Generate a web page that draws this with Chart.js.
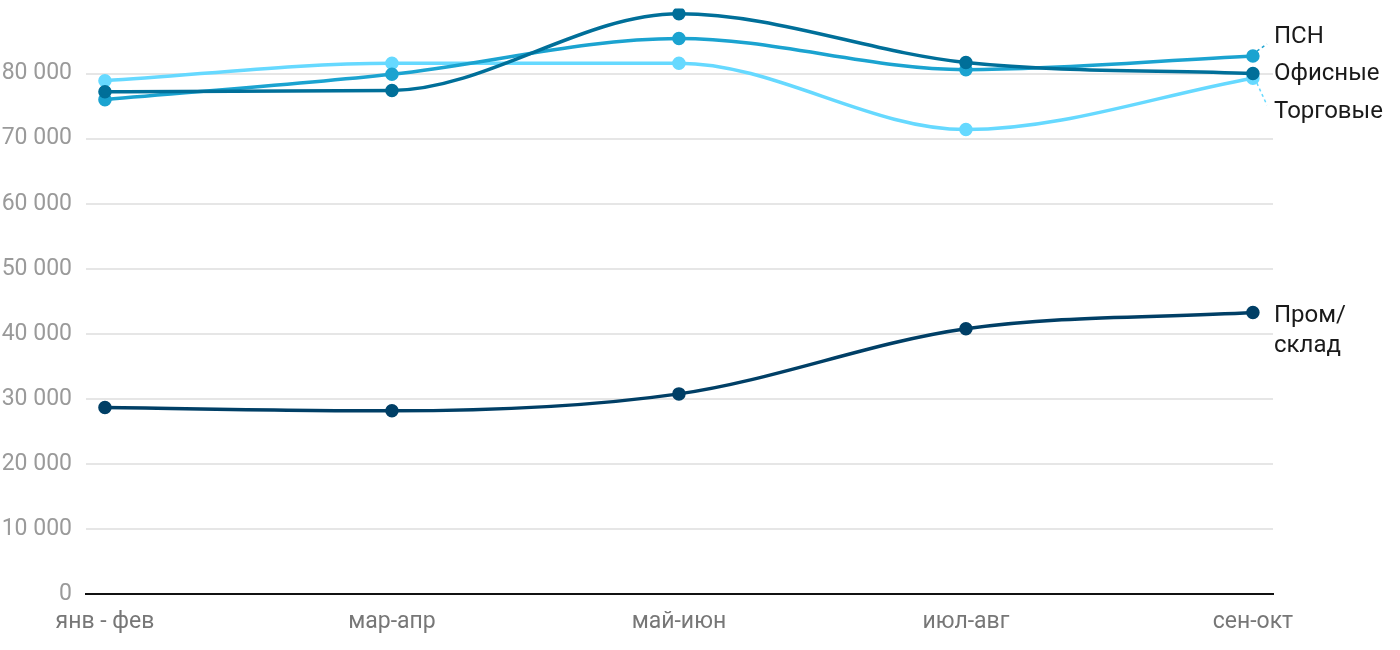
<!DOCTYPE html>
<html>
<head>
<meta charset="utf-8">
<script src="https://cdn.jsdelivr.net/npm/chart.js@4/dist/chart.umd.min.js"></script>
<style>
  html, body { margin: 0; padding: 0; background: #fff; }
  #wrap { width: 1400px; height: 650px; }
</style>
</head>
<body>
<div id="wrap"><canvas id="myChart"></canvas></div>
<script>
// периоды
var periods = ["янв - фев", "мар-апр", "май-июн", "июл-авг", "сен-окт"];

// значения по сегментам
var offices = [77200, 77400, 89200, 81700, 80000];
var psn = [76000, 79900, 85400, 80600, 82700];
var retail = [78900, 81600, 81600, 71400, 79300];
var warehouse = [28700, 28200, 30800, 40800, 43300];

// подписи справа
var seriesNames = ["Офисные", "ПСН", "Торговые", ["Пром/", "склад"]];

var yTicks = [0, 10000, 20000, 30000, 40000, 50000, 60000, 70000, 80000];

function pts(arr) {
  return arr.map(function (v, i) { return { x: i, y: v }; });
}

function fmt(v) {
  return String(v).replace(/\B(?=(\d{3})+(?!\d))/g, " ");
}

function noPad(s) {
  s.paddingTop = 0; s.paddingBottom = 0;
  s.paddingLeft = 0; s.paddingRight = 0;
}

// подписи серий у последней точки
var endLabels = {
  id: "endLabels",
  afterDatasetsDraw: function (chart) {
    var ctx = chart.ctx;
    var x = chart.chartArea.right + 1;
    var shift = [0, -19, 34, 3];
    ctx.save();
    ctx.font = "24px Roboto";
    ctx.fillStyle = "#1a1a1a";
    ctx.textBaseline = "middle";
    chart.data.datasets.forEach(function (ds, i) {
      var meta = chart.getDatasetMeta(i);
      var p = meta.data[meta.data.length - 1];
      var ly = p.y + shift[i];
      if (shift[i] !== 0 && i !== 3) {
        ctx.strokeStyle = ds.borderColor;
        ctx.lineWidth = 1.5;
        ctx.setLineDash([3, 3]);
        ctx.beginPath();
        var dir = shift[i] < 0 ? -1 : 1;
        ctx.moveTo(p.x + 4, p.y + dir * 5);
        ctx.lineTo(x - 7, ly - dir * 7);
        ctx.stroke();
        ctx.setLineDash([]);
      }
      var name = seriesNames[i];
      if (Array.isArray(name)) {
        name.forEach(function (t, k) { ctx.fillText(t, x, ly + k * 30); });
      } else {
        ctx.fillText(name, x, ly);
      }
    });
    ctx.restore();
  }
};

function line(label, data, color) {
  return {
    label: label,
    data: pts(data),
    borderColor: color,
    backgroundColor: color,
    borderWidth: 3.5,
    pointRadius: 5,
    pointHoverRadius: 5,
    cubicInterpolationMode: "monotone",
    fill: false
  };
}

var ctx = document.getElementById("myChart");
var chart = new Chart(ctx, {
  type: "line",
  data: {
    datasets: [
      line("Офисные", offices, "#006f99"),
      line("ПСН", psn, "#1ba3d0"),
      line("Торговые", retail, "#66d9ff"),
      line("Пром/склад", warehouse, "#003f66")
    ]
  },
  options: {
    responsive: true,
    maintainAspectRatio: false,
    animation: false,
    layout: { padding: { top: 7, right: 127, bottom: 8, left: 0 } },
    plugins: {
      legend: { display: false },
      tooltip: { enabled: false }
    },
    scales: {
      x: {
        type: "linear",
        min: -0.066,
        max: 4.07,
        grid: { display: false },
        border: { display: true, color: "#111", width: 2 },
        afterFit: noPad,
        ticks: {
          stepSize: 1,
          includeBounds: false,
          autoSkip: false,
          maxRotation: 0,
          padding: 6,
          color: "#777",
          font: { family: "Roboto", size: 23 },
          callback: function (v) { return Number.isInteger(v) ? periods[v] : ""; }
        }
      },
      y: {
        min: 0,
        max: 90000,
        border: { display: false },
        grid: {
          color: "#e6e6e6",
          lineWidth: 2,
          drawTicks: false
        },
        afterBuildTicks: function (axis) {
          axis.ticks = yTicks.map(function (v) { return { value: v }; });
        },
        afterFit: function (s) { noPad(s); s.width = 86; },
        ticks: {
          padding: 14,
          color: "#9a9a9a",
          font: { family: "Roboto", size: 23 },
          callback: function (v) { return fmt(v); }
        }
      }
    }
  },
  plugins: [endLabels]
});
</script>
</body>
</html>
